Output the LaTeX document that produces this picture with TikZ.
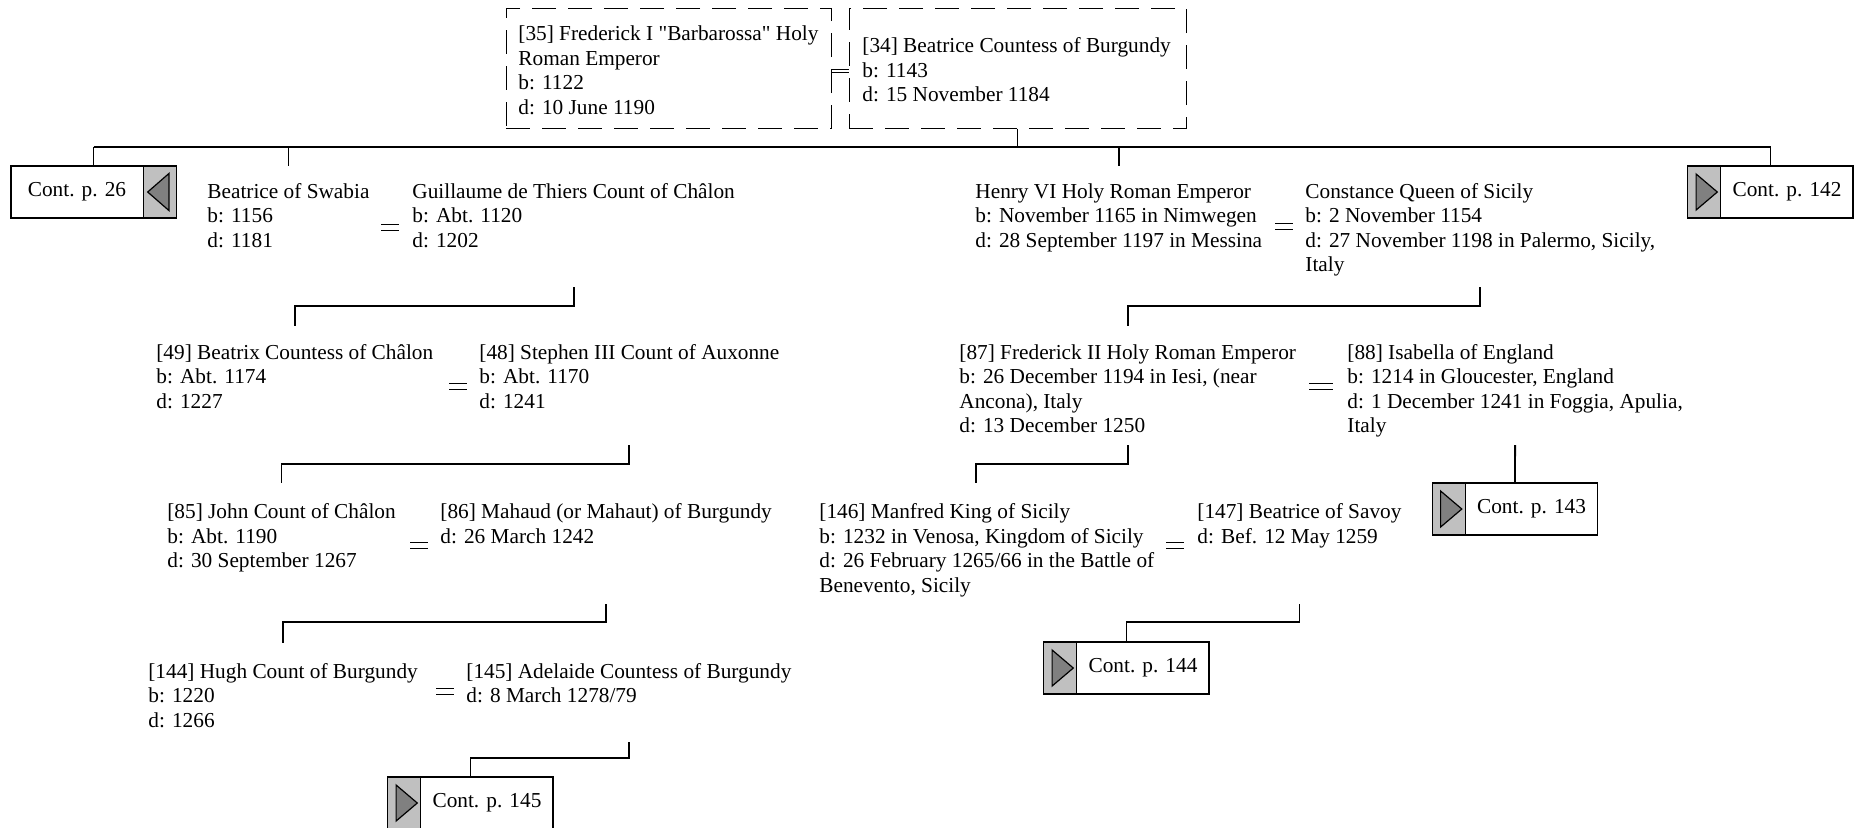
\documentclass[tikz,border=0pt]{standalone}
\usepackage{fontspec}
\setmainfont{Liberation Serif}
\newcommand{\straightquote}{{\XeTeXglyph\XeTeXglyphindex"quotedbl"\relax}}
\definecolor{boxgray}{HTML}{C0C0C0}
\definecolor{trigray}{HTML}{808080}
\tikzset{
  person/.style={anchor=north west, inner sep=0pt, align=left, font=\fontsize{10.65}{12.25}\selectfont},
  conttext/.style={inner sep=0pt, font=\fontsize{10.65}{12.25}\selectfont},
  conn/.style={line width=0.9pt},
  dbox/.style={draw, dash pattern=on 12pt off 6pt, line width=0.5pt, inner sep=0pt},
  contbox/.style={draw, fill=white, line width=0.9pt, minimum width=82.5pt, minimum height=26pt, inner sep=0pt},
  contgray/.style={draw, fill=boxgray, line width=0.6pt, minimum width=16.5pt, minimum height=26pt, inner sep=0pt},
  tri/.style={draw=black, fill=trigray, line width=0.6pt, line join=miter},
  marr/.pic={\draw[line width=0.5pt] (-9,-3) -- (9,-3) (-9,3) -- (9,3);},
  marrw/.pic={\draw[line width=0.5pt] (-12,-3) -- (12,-3) (-12,3) -- (12,3);}
}
\begin{document}
\begin{tikzpicture}[x=0.5pt,y=-0.5pt]
\useasboundingbox (0,0) rectangle (1855,827);

% top couple
\node[dbox, minimum width=162.5pt, minimum height=60pt] (b35) at (668.5,68) {};
\node[dbox, minimum width=168.5pt, minimum height=60pt] (b34) at (1017.5,68) {};
\node[person] (p35) at (518,23.4) {\strut[35] Frederick I \straightquote Barbarossa\straightquote\ Holy\\Roman Emperor\\b: 1122\\d: 10 June 1190};
\node[person] (p34) at (862,35.2) {\strut[34] Beatrice Countess of Burgundy\\b: 1143\\d: 15 November 1184};
\draw[line width=0.5pt] ([yshift=-0.6pt]b35.east) -- ([yshift=-0.6pt]b34.west)
                        ([yshift=-2pt]b35.east) -- ([yshift=-2pt]b34.west);

% generation 1
\node[person] (swabia) at (207,180.7) {\strut Beatrice of Swabia\\b: 1156\\d: 1181};
\node[person] (guil) at (412,180.7) {\strut Guillaume de Thiers Count of Châlon\\b: Abt. 1120\\d: 1202};
\node[person] (henry) at (975,180.7) {\strut Henry VI Holy Roman Emperor\\b: November 1165 in Nimwegen\\d: 28 September 1197 in Messina};
\node[person] (const) at (1305,180.7) {\strut Constance Queen of Sicily\\b: 2 November 1154\\d: 27 November 1198 in Palermo, Sicily,\\Italy};
\pic at (390,227) {marr};
\pic at (1284,226) {marr};

% cont boxes top
\node[contbox] (c26) at (93.5,192) {};
\node[contgray, anchor=east] (c26g) at (c26.east) {};
\filldraw[tri] ([xshift=-4pt,yshift=9.25pt]c26g.east) -- ([xshift=-4pt,yshift=-9.25pt]c26g.east) -- ([xshift=2.5pt]c26g.west) -- cycle;
\node[conttext] (t26) at ([xshift=-8.25pt]c26.center) {Cont. p. 26};

\node[contbox] (c142) at (1770.5,192) {};
\node[contgray, anchor=west] (c142g) at (c142.west) {};
\filldraw[tri] ([xshift=4.5pt,yshift=9pt]c142g.west) -- ([xshift=4.5pt,yshift=-9pt]c142g.west) -- ([xshift=-2pt]c142g.east) -- cycle;
\node[conttext] (t142) at ([xshift=8.25pt]c142.center) {Cont. p. 142};

\coordinate (ht) at (0,147);
\draw[conn] (b34.south) -- (b34.south |- ht);
\draw[conn] (c26.north |- ht) -- (c142.north |- ht);
\draw[conn] (c26.north |- ht) -- (c26.north);
\draw[conn] (c142.north |- ht) -- (c142.north);
\draw[conn] (swabia.north |- ht) -- ([yshift=7.5pt]swabia.north);
\draw[conn] (henry.north |- ht) -- ([yshift=7.5pt]henry.north);

% generation 2
\node[person] (p49) at (156,341.6) {\strut[49] Beatrix Countess of Châlon\\b: Abt. 1174\\d: 1227};
\node[person] (p48) at (479,341.6) {\strut[48] Stephen III Count of Auxonne\\b: Abt. 1170\\d: 1241};
\node[person] (p87) at (959,341.6) {\strut[87] Frederick II Holy Roman Emperor\\b: 26 December 1194 in Iesi, (near\\Ancona), Italy\\d: 13 December 1250};
\node[person] (p88) at (1347,341.6) {\strut[88] Isabella of England\\b: 1214 in Gloucester, England\\d: 1 December 1241 in Foggia, Apulia,\\Italy};
\pic at (458,386) {marr};
\pic at (1321,386) {marrw};

\coordinate (k1) at (0,287);
\coordinate (h1) at (0,306);
\draw[conn] (guil.south |- k1) -- (guil.south |- h1) -- (p49.north |- h1) -- ([yshift=8pt]p49.north);
\draw[conn] (const.south |- k1) -- (const.south |- h1) -- (p87.north |- h1) -- ([yshift=8pt]p87.north);

% generation 3
\node[person] (p85) at (167,501.3) {\strut[85] John Count of Châlon\\b: Abt. 1190\\d: 30 September 1267};
\node[person] (p86) at (440,501.3) {\strut[86] Mahaud (or Mahaut) of Burgundy\\d: 26 March 1242};
\node[person] (p146) at (819,501.3) {\strut[146] Manfred King of Sicily\\b: 1232 in Venosa, Kingdom of Sicily\\d: 26 February 1265/66 in the Battle of\\Benevento, Sicily};
\node[person] (p147) at (1197,501.3) {\strut[147] Beatrice of Savoy\\d: Bef. 12 May 1259};
\pic at (419,545) {marr};
\pic at (1175,545) {marr};
\coordinate (m146) at ([xshift=-5.5pt]p146.north);

\node[contbox] (c143) at (1515,509) {};
\node[contgray, anchor=west] (c143g) at (c143.west) {};
\filldraw[tri] ([xshift=4.5pt,yshift=9pt]c143g.west) -- ([xshift=4.5pt,yshift=-9pt]c143g.west) -- ([xshift=-2pt]c143g.east) -- cycle;
\node[conttext] (t143) at ([xshift=8.25pt]c143.center) {Cont. p. 143};

\coordinate (k2) at (0,445);
\coordinate (h2) at (0,464);
\draw[conn] (p48.south |- k2) -- (p48.south |- h2) -- (p85.north |- h2) -- ([yshift=9pt]p85.north);
\draw[conn] (p87.south |- k2) -- (p87.south |- h2) -- (m146 |- h2) -- ([yshift=9pt]m146);
\draw[conn] (p88.south |- k2) -- (c143.north);

% generation 4
\node[person] (p144) at (148,660.9) {\strut[144] Hugh Count of Burgundy\\b: 1220\\d: 1266};
\node[person] (p145) at (466,660.9) {\strut[145] Adelaide Countess of Burgundy\\d: 8 March 1278/79};
\pic at (445,691) {marr};

\node[contbox] (c144) at (1126.5,668) {};
\node[contgray, anchor=west] (c144g) at (c144.west) {};
\filldraw[tri] ([xshift=4.5pt,yshift=9pt]c144g.west) -- ([xshift=4.5pt,yshift=-9pt]c144g.west) -- ([xshift=-2pt]c144g.east) -- cycle;
\node[conttext] (t144) at ([xshift=8.25pt]c144.center) {Cont. p. 144};

\coordinate (k3) at (0,604);
\coordinate (h3) at (0,622);
\draw[conn] (p86.south |- k3) -- (p86.south |- h3) -- (p144.north |- h3) -- ([yshift=9pt]p144.north);
\draw[conn] (p147.south |- k3) -- (p147.south |- h3) -- (c144.north |- h3) -- (c144.north);

% generation 5
\node[contbox] (c145) at (470.5,803) {};
\node[contgray, anchor=west] (c145g) at (c145.west) {};
\filldraw[tri] ([xshift=4.5pt,yshift=9pt]c145g.west) -- ([xshift=4.5pt,yshift=-9pt]c145g.west) -- ([xshift=-2pt]c145g.east) -- cycle;
\node[conttext] (t145) at ([xshift=8.25pt]c145.center) {Cont. p. 145};

\coordinate (k4) at (0,742);
\coordinate (h4) at (0,758);
\draw[conn] (p145.south |- k4) -- (p145.south |- h4) -- (c145.north |- h4) -- (c145.north);
\end{tikzpicture}
\end{document}
